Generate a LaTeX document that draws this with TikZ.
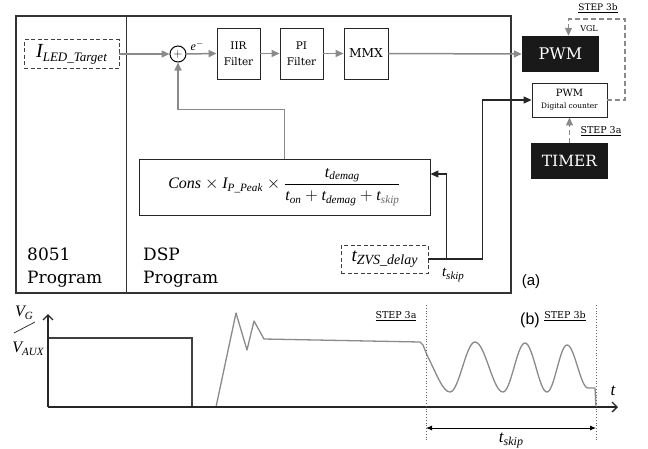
\documentclass[tikz,border=0pt]{standalone}
\usepackage{amsmath}
\usepackage{fontspec}
\setmainfont{DejaVu Serif}
\setsansfont{Liberation Sans}
\newfontfamily\mi{Liberation Serif}
\usetikzlibrary{arrows.meta,calc}
\definecolor{ag}{HTML}{8A8A8A}
\newcommand\fs[1]{\fontsize{#1}{#1}\selectfont}
\newcommand\itx[1]{\text{\mi\itshape #1}}
\begin{document}
\begin{tikzpicture}[x=1pt,y=-1pt,
  box/.style={draw=black!85,line width=0.9pt,fill=white,align=center,inner sep=0pt},
  blk/.style={fill=black!90,text=white,inner sep=0pt},
  dbox/.style={draw=black!75,dash pattern=on 4pt off 2.5pt,line width=0.9pt,inner sep=0pt},
  ga/.style={draw=ag,line width=1.5pt,-{Triangle[length=8pt,width=7pt,fill=ag]}},
  gd/.style={draw=ag,line width=1.2pt,dash pattern=on 5pt off 3pt,-{Triangle[length=8pt,width=7pt,fill=ag]}},
  ba/.style={draw=black!85,line width=1.3pt,-{Triangle[length=8pt,width=7pt]}},
  lbl/.style={inner sep=0pt},
  axis/.style={line width=1.3pt,black!85,-{Straight Barb[length=5pt,width=10pt]}}]
\useasboundingbox (0,0) rectangle (648,448);

% ---- block diagram ----
\node[draw=black!80,line width=1.3pt,minimum width=495pt,minimum height=277pt,inner sep=0pt] (outer) at (263.5,154.5) {};
\draw[line width=1.3pt,black!80] ($(outer.north west)+(111,0)$) -- ($(outer.south west)+(111,0)$);

\node[dbox,minimum width=95pt,minimum height=29pt] (iled) at (71.5,54)
  {\mi\fs{20}\itshape I\raisebox{-4pt}{\fs{13}LED\_Target}};
\node[draw=black,line width=1pt,circle,minimum size=16pt,inner sep=0pt,font=\fs{13}] (sum) at (178,54) {$+$};
\node[box,minimum width=43pt,minimum height=51pt,font=\fontsize{10.5}{16}\selectfont] (iir) at (238.5,53.5) {IIR\\Filter};
\node[box,minimum width=43pt,minimum height=51pt,font=\fontsize{10.5}{16}\selectfont] (pi) at (301.5,53.5) {PI\\Filter};
\node[box,minimum width=44pt,minimum height=51pt,font=\fs{12.3}] (mmx) at (366,53.5) {MMX};
\node[blk,minimum width=77pt,minimum height=36pt,font=\fs{16}] (pwm) at (560.5,54) {PWM};
\node[box,minimum width=75pt,minimum height=34pt] (cnt) at (569.5,100)
  {\fontsize{10}{12}\selectfont PWM\\\fontsize{7.4}{9}\selectfont Digital counter};
\node[blk,minimum width=77pt,minimum height=36pt,font=\fs{15.5}] (timer) at (569.5,161) {TIMER};
\node[box,minimum width=291pt,minimum height=56pt,font=\fontsize{16}{19}\selectfont] (form) at (284.5,187)
  {$\itx{Cons}\times \itx{I}_{\itx{P\_Peak}}\times\dfrac{\itx{t}_{\itx{demag}}}{\itx{t}_{\itx{on}}+\itx{t}_{\itx{demag}}+\itx{t}_{\textcolor{black!60}{\itx{skip}}}}$};
\node[dbox,minimum width=87pt,minimum height=28pt] (zvs) at (384.5,259)
  {\mi\fs{19}\itshape t\raisebox{-3pt}{\fs{14}ZVS\_delay}};

\node[lbl,anchor=base west,font=\fs{17}] (l8051) at (27,260) {8051};
\node[lbl,anchor=base west,font=\fs{17}] (lprog1) at (27,283) {Program};
\node[lbl,anchor=base west,font=\fs{17}] (ldsp) at (143,260) {DSP};
\node[lbl,anchor=base west,font=\fs{17}] (lprog2) at (143,283) {Program};

\draw[ga] (iled.east) -- (sum.west);
\draw[ga] (sum.east) -- (iir.west);
\node[lbl,font=\mi\fs{12}] (elbl) at (197,46) {\itshape e\raisebox{4pt}{\fs{9}$-$}};
\draw[ga] (iir.east) -- (pi.west);
\draw[ga] (pi.east) -- (mmx.west);
\draw[ga] (mmx.east) -- (pwm.west);
\draw[ga] (form.north) -- ++(0,-49) -| (sum.south);

\coordinate (j1) at ($(zvs.east)+(18,0)$);
\draw[ba] (zvs.east) -- ++(54,0) |- (cnt.west);
\draw[ba] (j1) |- ([yshift=13pt]form.east);
\node[lbl,font=\mi\fs{15}] (tskipa) at (453,275) {\itshape t\raisebox{-2.5pt}{\fs{11}skip}};

\coordinate (dc) at (625,19);
\draw[gd] (cnt.east) -- (cnt.east -| dc) -- (dc) -| ([xshift=8pt]pwm.north);
\draw[gd] (timer.north) -- (cnt.south);
\node[lbl,font=\fs{9}] (s3b) at (598,8) {\underline{STEP 3b}};
\node[lbl,font=\fs{8}] (vgl) at (589,29) {VGL};
\node[lbl,font=\fs{9.5}] (s3a) at (601,131) {\underline{STEP 3a}};
\node[lbl,font=\sffamily\fs{15}] (la) at (531,282) {(a)};

% ---- waveform ----
\coordinate (o) at (48,407);
\coordinate (ytop) at (48,314);
\coordinate (xend) at (618,407);
\draw[line width=1.3pt,black!75] (o) -- (48,338) -- (192,338) -- (192,407);
\draw[ag,line width=1.3pt,line join=round] (192,407) -- (216,407) -- (236,313) -- (247,350) -- (254,321) -- (264,339) -- (420,342)
  -- (423,345) -- (427,355) .. controls (437,375) and (443,392) .. (450,392)
  cos (462.5,367) sin (475,342) cos (489,367) sin (503,392)
  cos (514,367.5) sin (525,343) cos (536,367.5) sin (547,392)
  cos (557,368.5) sin (567,345) cos (577.5,366.5) sin (588,388) -- (595,388) -- (596,407);
\draw[axis] (o) -- (ytop);
\draw[axis] (o) -- (xend);
\draw[black!60,line width=0.8pt,dotted] (426,305) -- (426,442);
\draw[black!60,line width=0.8pt,dotted] (596,305) -- (596,442);
\coordinate (ta) at (426,428);
\coordinate (tb) at (596,428);
\draw[line width=0.9pt,{Latex[length=6pt,width=5pt]}-{Latex[length=6pt,width=5pt]}] (ta) -- (tb);
\node[lbl,font=\mi\fs{17}] (tskipb) at (511,440) {\itshape t\raisebox{-3pt}{\fs{12}skip}};
\node[lbl,font=\mi\fs{17}] (tlbl) at (613,391) {\itshape t};
\node[lbl,font=\mi\fs{16}] (vg) at (24,313) {\itshape V\raisebox{-3pt}{\fs{11}G}};
\draw[black!80,line width=0.8pt] (14,333) -- (35,322);
\node[lbl,font=\mi\fs{16}] (vaux) at (28,349) {\itshape V\raisebox{-3pt}{\fs{11}AUX}};
\node[lbl,font=\fs{9.5}] (s3a2) at (396,316) {\underline{STEP 3a}};
\node[lbl,font=\fs{9.5}] (s3b2) at (565,316) {\underline{STEP 3b}};
\node[lbl,font=\sffamily\fs{16}] (lb) at (530,320) {(b)};
\end{tikzpicture}
\end{document}
